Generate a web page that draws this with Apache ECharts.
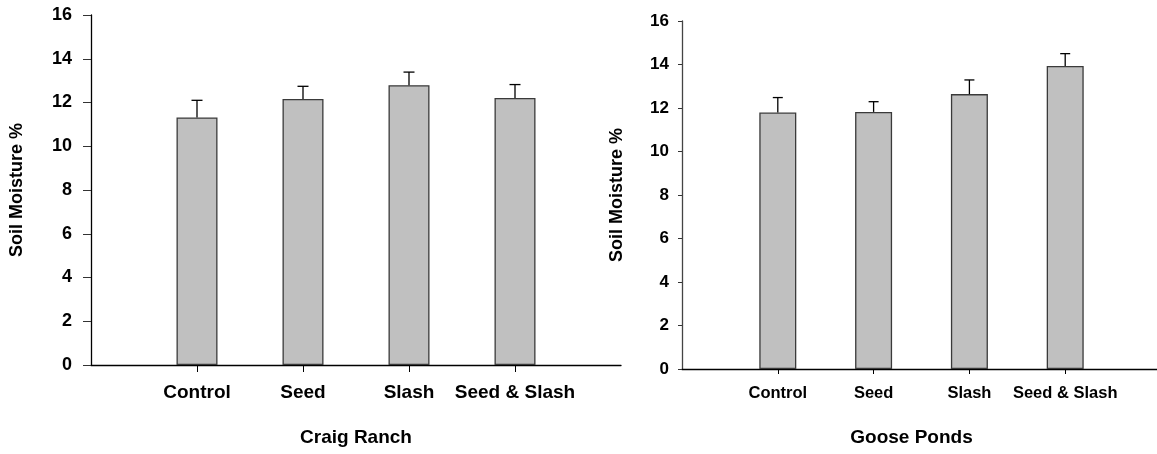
<!DOCTYPE html>
<html>
<head>
<meta charset="utf-8">
<script src="https://cdn.jsdelivr.net/npm/echarts@6/dist/echarts.min.js"></script>
<style>
  html, body { margin: 0; padding: 0; background: #fff; overflow: hidden; }
  #chart { width: 1165px; height: 454px; }
</style>
</head>
<body>
<div id="chart"></div>
<script>
// Treatments shared by both sites
const categories = ['Control', 'Seed', 'Slash', 'Seed & Slash'];

// Craig Ranch: mean soil moisture (%) and standard error
const craigMeans = [11.32, 12.16, 12.79, 12.21];
const craigErrors = [0.78, 0.58, 0.60, 0.61];

// Goose Ponds: mean soil moisture (%) and standard error
const gooseMeans = [11.79, 11.82, 12.64, 13.93];
const gooseErrors = [0.69, 0.47, 0.65, 0.57];

const yTicks = { min: 0, max: 16, interval: 2 };
const FONT = '"Liberation Sans", Arial, Helvetica, sans-serif';

// Axis slots: an empty slot on each side of the treatments
const axisSlots = [''].concat(categories, ['']);
const padded = arr => ['-'].concat(arr, ['-']);
const errorData = (means, errs) =>
  means.map((m, i) => [i + 1, m, m + errs[i]]);

function errorBarRenderer(capHalf) {
  return function (params, api) {
    const x = api.value(0);
    const base = api.coord([x, api.value(1)]);
    const top = api.coord([x, api.value(2)]);
    const style = { stroke: '#000', lineWidth: 1.3 };
    return {
      type: 'group',
      children: [
        { type: 'line', shape: { x1: base[0], y1: base[1], x2: top[0], y2: top[1] }, style },
        { type: 'line', shape: { x1: top[0] - capHalf, y1: top[1], x2: top[0] + capHalf, y2: top[1] }, style }
      ]
    };
  };
}

function xAxisFor(gridIndex, opts) {
  return {
    gridIndex,
    type: 'category',
    data: axisSlots,
    boundaryGap: false,
    name: opts.name,
    nameLocation: 'middle',
    nameGap: opts.nameGap,
    nameTextStyle: {
      fontFamily: FONT, fontWeight: 'bold', fontSize: opts.nameSize, color: '#000',
      padding: opts.namePadding || 0
    },
    axisLine: { lineStyle: { color: '#000', width: 1.3 } },
    axisTick: {
      show: true,
      length: opts.tickLen,
      interval: (index, value) => value !== '',
      lineStyle: { color: '#000', width: 1 }
    },
    axisLabel: {
      interval: 0,
      margin: opts.labelMargin,
      fontFamily: FONT, fontWeight: 'bold', fontSize: opts.labelSize, color: '#000'
    },
    splitLine: { show: false }
  };
}

function yAxisFor(gridIndex, opts) {
  return {
    gridIndex,
    type: 'value',
    min: yTicks.min, max: yTicks.max, interval: yTicks.interval,
    name: 'Soil Moisture %',
    nameLocation: 'middle',
    nameGap: opts.nameGap,
    nameTextStyle: { fontFamily: FONT, fontWeight: 'bold', fontSize: opts.nameSize, color: '#000' },
    axisLine: { show: true, lineStyle: { color: opts.lineColor, width: 1.3 } },
    axisTick: { show: true, length: opts.tickLen, lineStyle: { color: '#333', width: 1 } },
    axisLabel: { margin: opts.labelMargin, fontFamily: FONT, fontWeight: 'bold', fontSize: opts.labelSize, color: '#000' },
    splitLine: { show: false }
  };
}

const barStyle = { color: '#c0c0c0', borderColor: '#3a3a3a', borderWidth: 1.3 };

const option = {
  animation: false,
  backgroundColor: '#fff',
  grid: [
    { left: 91, top: 15, width: 530, bottom: 89, containLabel: false },
    { left: 682, top: 21, width: 479, bottom: 85, containLabel: false }
  ],
  xAxis: [
    xAxisFor(0, { name: 'Craig Ranch', nameGap: 63, nameSize: 19, tickLen: 7, labelMargin: 18, labelSize: 19 }),
    xAxisFor(1, { name: 'Goose Ponds', nameGap: 59, nameSize: 19, tickLen: 5, labelMargin: 16, labelSize: 16.5,
                  namePadding: [0, 20, 0, 0] })
  ],
  yAxis: [
    yAxisFor(0, { nameGap: 65, nameSize: 18, tickLen: 8, labelMargin: 19, labelSize: 18, lineColor: '#000' }),
    yAxisFor(1, { nameGap: 56, nameSize: 18, tickLen: 4, labelMargin: 13, labelSize: 17, lineColor: '#444' })
  ],
  series: [
    {
      type: 'bar', xAxisIndex: 0, yAxisIndex: 0,
      data: padded(craigMeans), barWidth: 41, itemStyle: barStyle, z: 2
    },
    {
      type: 'custom', xAxisIndex: 0, yAxisIndex: 0,
      data: errorData(craigMeans, craigErrors),
      renderItem: errorBarRenderer(5.5), z: 3
    },
    {
      type: 'bar', xAxisIndex: 1, yAxisIndex: 1,
      data: padded(gooseMeans), barWidth: 37, itemStyle: barStyle, z: 2
    },
    {
      type: 'custom', xAxisIndex: 1, yAxisIndex: 1,
      data: errorData(gooseMeans, gooseErrors),
      renderItem: errorBarRenderer(5), z: 3
    }
  ]
};

const chart = echarts.init(document.getElementById('chart'), null, { renderer: 'canvas' });
chart.setOption(option);
</script>
</body>
</html>
